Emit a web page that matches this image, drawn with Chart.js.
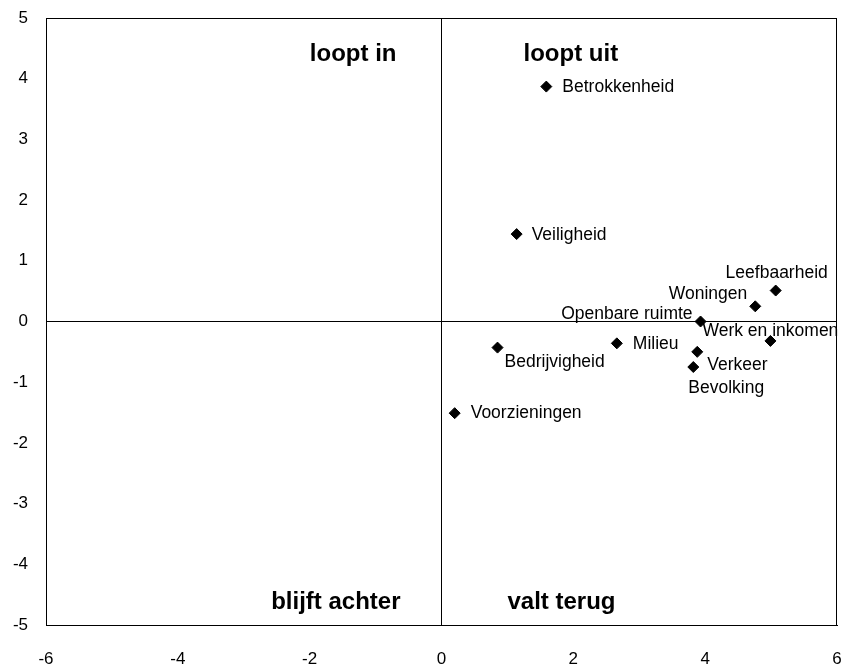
<!DOCTYPE html>
<html>
<head>
<meta charset="utf-8">
<script src="https://cdn.jsdelivr.net/npm/chart.js@4/dist/chart.umd.min.js"></script>
<style>
html,body{margin:0;padding:0;background:#fff;}
canvas{display:block;}
</style>
</head>
<body>
<canvas id="c" width="849" height="669"></canvas>
<script>
// ---- data ----
const categories = ["Betrokkenheid","Veiligheid","Leefbaarheid","Woningen","Openbare ruimte","Werk en inkomen","Milieu","Bedrijvigheid","Verkeer","Bevolking","Voorzieningen"];
const xValues = [1.59, 1.14, 5.07, 4.76, 3.93, 4.99, 2.66, 0.85, 3.88, 3.82, 0.20];
const yValues = [3.87, 1.44, 0.51, 0.25, 0.00, -0.32, -0.36, -0.43, -0.50, -0.75, -1.51];
const xTicks = [-6, -4, -2, 0, 2, 4, 6];
const yTicks = [-5, -4, -3, -2, -1, 0, 1, 2, 3, 4, 5];
const quadrantLabels = ["loopt in", "loopt uit", "blijft achter", "valt terug"];

// ---- label placement (layout only) ----
const labelPlacement = [
  {align:'left',  dx:16, dy:5},
  {align:'left',  dx:15, dy:6},
  {align:'center',dx:1,  dy:-13},
  {align:'right', dx:-8, dy:-7},
  {align:'right', dx:-8, dy:-3},
  {align:'center',dx:0,  dy:-5},
  {align:'left',  dx:16, dy:6},
  {align:'left',  dx:7,  dy:19},
  {align:'left',  dx:10, dy:18},
  {align:'left',  dx:-5, dy:26},
  {align:'left',  dx:16, dy:5}
];
const quadrantPlacement = [
  {align:'right', dx:-45, at:'top', dy:43},
  {align:'left',  dx:82,  at:'top', dy:43},
  {align:'right', dx:-41, at:'bottom', dy:-16},
  {align:'left',  dx:66,  at:'bottom', dy:-16}
];

const FONT = "'Liberation Sans', Arial, Helvetica, sans-serif";
Chart.defaults.font.family = FONT;
Chart.defaults.color = '#000';

const points = xValues.map((x, i) => ({x: x, y: yValues[i]}));

const annotate = {
  id: 'annotate',
  afterDraw(chart) {
    const ctx = chart.ctx;
    const area = chart.chartArea;
    ctx.save();
    // frame
    ctx.strokeStyle = '#000';
    ctx.lineWidth = 1;
    ctx.strokeRect(Math.round(area.left) + 0.5, Math.round(area.top) + 0.5,
                   Math.round(area.right - area.left) - 1, Math.round(area.bottom - area.top));
    // point labels
    const meta = chart.getDatasetMeta(0);
    ctx.fillStyle = '#000';
    ctx.font = "17.5px " + FONT;
    ctx.textBaseline = 'alphabetic';
    meta.data.forEach((el, i) => {
      const p = labelPlacement[i];
      ctx.textAlign = p.align;
      ctx.fillText(categories[i], el.x + p.dx, el.y + p.dy);
    });
    // quadrant labels
    const x0 = chart.scales.x.getPixelForValue(0);
    ctx.font = "bold 24px " + FONT;
    quadrantLabels.forEach((t, i) => {
      const q = quadrantPlacement[i];
      ctx.textAlign = q.align;
      const y = (q.at === 'top' ? area.top : area.bottom) + q.dy;
      ctx.fillText(t, x0 + q.dx, y);
    });
    ctx.restore();
  }
};

new Chart(document.getElementById('c'), {
  type: 'scatter',
  data: {
    datasets: [{
      data: points,
      pointStyle: 'rectRot',
      pointRadius: 5.5,
      pointBorderWidth: 1,
      backgroundColor: '#000',
      borderColor: '#000'
    }]
  },
  options: {
    responsive: false,
    animation: false,
    events: [],
    layout: { padding: { top: 18, right: 12, left: 0, bottom: 0 } },
    plugins: { legend: { display: false }, tooltip: { enabled: false } },
    scales: {
      x: {
        type: 'linear',
        min: -6, max: 6,
        afterBuildTicks: s => { s.ticks = xTicks.map(v => ({value: v})); },
        afterFit: s => { s.height = 44; s.paddingLeft = 0; s.paddingRight = 0; },
        ticks: { font: { size: 17 }, color: '#000', padding: 24, maxRotation: 0 },
        grid: { drawTicks: false, color: c => (c.tick && c.tick.value === 0) ? '#000' : 'rgba(0,0,0,0)', lineWidth: 1 },
        border: { display: true, color: '#000', width: 1 }
      },
      y: {
        type: 'linear',
        min: -5, max: 5,
        afterBuildTicks: s => { s.ticks = yTicks.map(v => ({value: v})); },
        afterFit: s => { s.width = 46; s.paddingTop = 0; s.paddingBottom = 0; },
        ticks: { font: { size: 17 }, color: '#000', padding: 18 },
        grid: { drawTicks: false, color: c => (c.tick && c.tick.value === 0) ? '#000' : 'rgba(0,0,0,0)', lineWidth: 1 },
        border: { display: true, color: '#000', width: 1 }
      }
    }
  },
  plugins: [annotate]
});
</script>
</body>
</html>
